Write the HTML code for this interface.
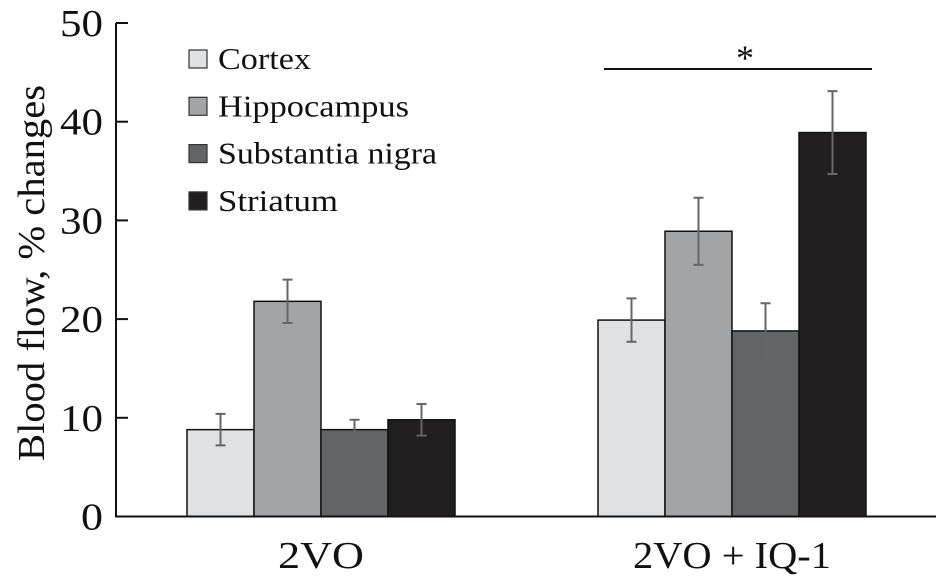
<!DOCTYPE html>
<html><head><meta charset="utf-8"><style>
body{margin:0;background:#fff}
svg{display:block;font-family:"Liberation Serif",serif}
</style></head><body>
<svg id="c" width="936" height="577"></svg>
<script>
const categories=["2VO","2VO + IQ-1"];
const series=["Cortex","Hippocampus","Substantia nigra","Striatum"];
const colors=["#e0e1e3","#a3a4a6","#636466","#221f20"];
const valCortex=[8.8,19.9];
const valHippo=[21.8,28.9];
const valSN=[8.8,18.8];
const valStriatum=[9.8,38.9];
const errCortex=[1.6,2.2];
const errHippo=[2.2,3.4];
const errSN=[1.0,2.8];
const errStriatum=[1.6,4.2];
const yTicks=[0,10,20,30,40,50];
const vals=[valCortex,valHippo,valSN,valStriatum];
const errs=[errCortex,errHippo,errSN,errStriatum];
const NS="http://www.w3.org/2000/svg";
const svg=document.getElementById('c');
function el(t,a,p){const e=document.createElementNS(NS,t);for(const k in a)e.setAttribute(k,a[k]);(p||svg).appendChild(e);return e;}
const y0=516.5,pxPer=9.87;
function y(v){return y0-v*pxPer;}
const groupStart=[187,598],barW=67;
function x(g,s){return groupStart[g]+s*barW;}
for(let g=0;g<categories.length;g++){
 for(let s=0;s<series.length;s++){
  const v=vals[s][g];
  const r=el('rect',{x:x(g,s),y:y(v),width:barW,height:y(0)-y(v),fill:colors[s],stroke:'#111','stroke-width':1.5});
  
  
  const cx=x(g,s)+barW/2,e=errs[s][g];
  const eb=el('path',{d:`M${cx},${y(v+e)}V${y(v-e)}M${cx-5},${y(v+e)}H${cx+5}M${cx-5},${y(v-e)}H${cx+5}`,stroke:'#666','stroke-width':2,fill:'none'});
  
  
 }
}
const ax=el('path',{d:`M116,${y(50)}V${y(0)}H936`,stroke:'#111','stroke-width':2,fill:'none'});


yTicks.forEach(t=>{
 const tk=el('line',{x1:116,x2:128,y1:y(t),y2:y(t),stroke:'#111','stroke-width':2});
 
 
 const w=t===0?22:43;
 const tl=el('text',{x:103,y:y(t)+13,'text-anchor':'end','font-size':38,fill:'#111',textLength:w,lengthAdjust:'spacingAndGlyphs'});
 tl.textContent=t;
 
 
});
const xlw=[86,198];
categories.forEach((c,g)=>{
 const t=el('text',{x:x(g,2),y:568,'text-anchor':'middle','font-size':38,fill:'#111',textLength:xlw[g],lengthAdjust:'spacingAndGlyphs'});
 t.textContent=c;
 
 
});
const yt=el('text',{transform:'translate(44,273) rotate(-90)','text-anchor':'middle','font-size':38,fill:'#111',textLength:376,lengthAdjust:'spacingAndGlyphs'});
yt.textContent='Blood flow, % changes';


const legW=[93,191,219,120];
series.forEach((s,i)=>{
 const cy=59+i*47.3;
 const r=el('rect',{x:189,y:cy-9,width:18,height:18,fill:colors[i],stroke:'#333','stroke-width':1.2});
 
 
 const t=el('text',{x:218,y:cy+10,'font-size':31,fill:'#111',textLength:legW[i],lengthAdjust:'spacingAndGlyphs'});
 t.textContent=s;
 
 
});
const sl=el('line',{x1:604,x2:872,y1:69,y2:69,stroke:'#111','stroke-width':2});


const st=el('text',{x:745,y:70,'text-anchor':'middle','font-size':36,fill:'#111'});
st.textContent='*';


</script>
</body></html>
